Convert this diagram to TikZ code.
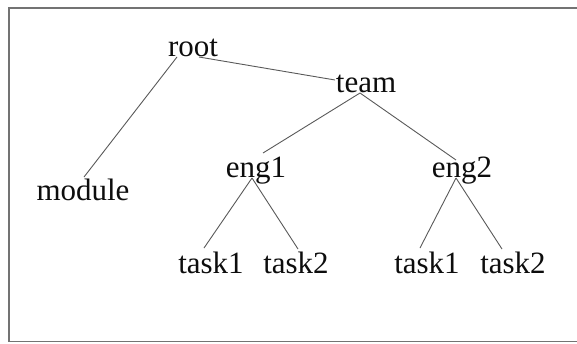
\documentclass[tikz,border=0pt]{standalone}
\usepackage{fontspec}
\setmainfont{Liberation Serif}
\begin{document}
\begin{tikzpicture}[x=1pt,y=-1pt,
  lbl/.style={anchor=base,inner sep=0pt,text=black!95,font=\fontsize{31}{31}\selectfont},
  edge/.style={draw=black!65,line width=0.9pt}]
\useasboundingbox (0,0) rectangle (577,343);
\draw[black!55,line width=1.4pt] (577,8) -- (9,8) -- (9,341.5) -- (577,341.5);
\node[lbl] (root) at (193,56) {root};
\node[lbl] (team) at (366,92) {team};
\node[lbl] (module) at (83,200) {module};
\node[lbl] (eng1) at (256,177) {eng1};
\node[lbl] (eng2) at (462,177) {eng2};
\node[lbl] (t1a) at (211,273) {task1};
\node[lbl] (t2a) at (296,273) {task2};
\node[lbl] (t1b) at (427,273) {task1};
\node[lbl] (t2b) at (513,273) {task2};
\draw[edge] ([xshift=-16pt,yshift=-1pt]root.base) -- ([xshift=1pt,yshift=23pt]module.base);
\draw[edge] ([xshift=6pt,yshift=-1pt]root.base) -- ([xshift=-31pt,yshift=12pt]team.base);
\draw[edge] ([xshift=-6pt,yshift=-1pt]team.base) -- ([xshift=7pt,yshift=24pt]eng1.base);
\draw[edge] ([xshift=-6pt,yshift=-1pt]team.base) -- ([xshift=-6pt,yshift=17pt]eng2.base);
\draw[edge] ([xshift=-4pt,yshift=-1pt]eng1.base) -- ([xshift=-7pt,yshift=25pt]t1a.base);
\draw[edge] ([xshift=-4pt,yshift=-1pt]eng1.base) -- ([xshift=2pt,yshift=24pt]t2a.base);
\draw[edge] ([xshift=-6pt,yshift=-1pt]eng2.base) -- ([xshift=-7pt,yshift=25pt]t1b.base);
\draw[edge] ([xshift=-6pt,yshift=-1pt]eng2.base) -- ([xshift=-11pt,yshift=24pt]t2b.base);
\end{tikzpicture}
\end{document}
